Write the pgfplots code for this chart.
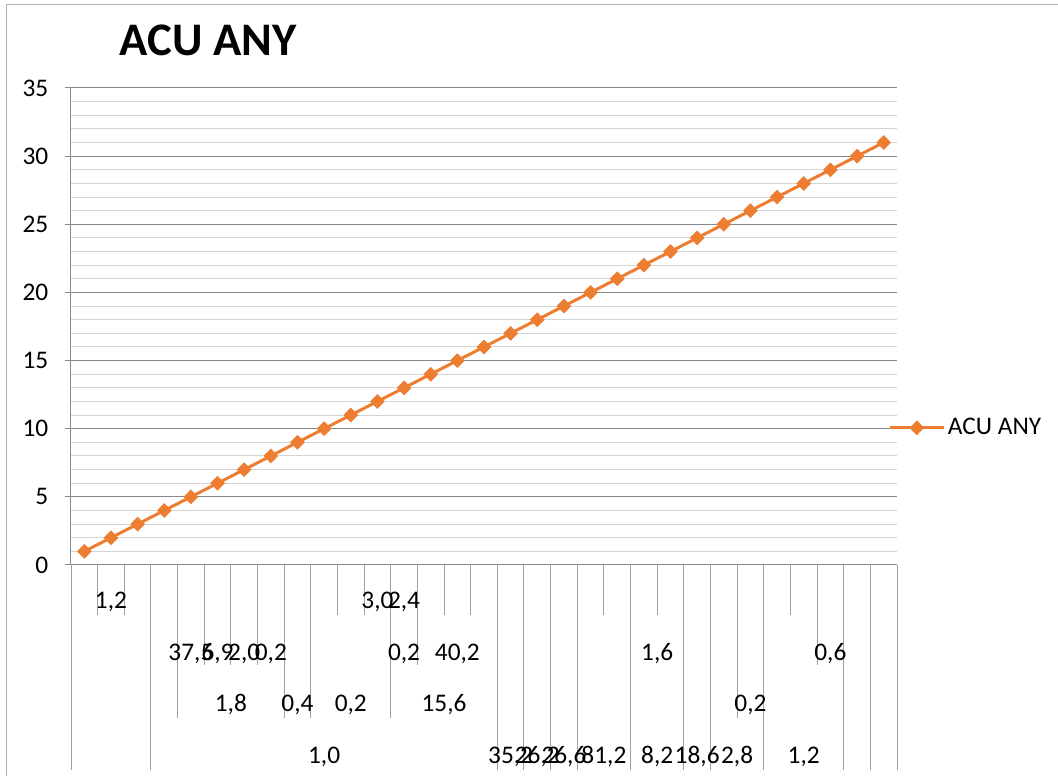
\documentclass[border=0pt]{standalone}
\usepackage{fontspec}
\setmainfont{Carlito}
\usepackage{pgfplots}
\pgfplotsset{compat=1.18}

\definecolor{acu}{HTML}{ED7D31}
\definecolor{axgray}{HTML}{898989}
\definecolor{mingray}{HTML}{D4D4D4}
\definecolor{tickgray}{HTML}{A0A0A0}
\definecolor{bordergray}{HTML}{B0B0B0}

% category label: position in category-boundary units, baseline in px
\newcommand{\cl}[3]{\node[anchor=base, inner sep=0pt] at ({71+26.645*(#1)},#2) {#3};}

\begin{document}
\fontsize{19}{23}\selectfont
\begin{tikzpicture}
\useasboundingbox (0,0) rectangle (793.5pt,582pt);

\begin{axis}[
    at={(53.25pt,158.25pt)}, anchor=south west,
    scale only axis, width=619.5pt, height=357.75pt,
    xmin=0.5, xmax=31.5, ymin=0, ymax=35,
    xtick=\empty,
    ytick={0,5,...,35},
    minor y tick num=4,
    ymajorgrids, yminorgrids,
    major grid style={axgray, line width=0.75pt},
    minor grid style={mingray, line width=0.75pt},
    axis x line*=bottom, axis y line*=left,
    axis line style={axgray, line width=0.75pt, -},
    tick align=outside, major tick length=4.5pt, minor tick length=0pt,
    tick style={axgray, line width=0.75pt},
    yticklabel style={font=\fontsize{19}{23}\selectfont, xshift=-6pt},
    /pgf/number format/assume math mode=true,
    clip=false,
    legend style={draw=none, fill=none, at={(axis description cs:1,0.2875)},
        anchor=west, xshift=-6.75pt, inner sep=0pt, font=\fontsize{19}{23}\selectfont},
    legend cell align=left,
    legend image code/.code={\draw[mark repeat=2, mark phase=2]
        plot coordinates {(0pt,0pt) (20.25pt,0pt) (40.5pt,0pt)};},
]
\addplot[acu, line width=2.25pt, mark=diamond*, mark size=5pt,
    mark options={xscale=1.33, line width=0.75pt}]
    coordinates {(1,1) (2,2) (3,3) (4,4) (5,5) (6,6) (7,7) (8,8) (9,9) (10,10)
    (11,11) (12,12) (13,13) (14,14) (15,15) (16,16) (17,17) (18,18) (19,19) (20,20)
    (21,21) (22,22) (23,23) (24,24) (25,25) (26,26) (27,27) (28,28) (29,29) (30,30) (31,31)};
\addlegendentry{ACU ANY}
\end{axis}

\begin{scope}[x=0.75pt, y=-0.75pt, yshift=582pt]
  \draw[bordergray, line width=0.75pt] (6,776) -- (6,5) -- (1058,5);
  \node[font=\fontsize{35}{40}\selectfont\bfseries] at (208,40) {ACU ANY};
  % multi-level category dividers
  \foreach \k/\e in {0/770,1/615,2/615,3/770,4/718,5/665,6/665,7/665,8/718,9/718,
      10/615,11/615,12/718,13/665,14/615,15/615,16/770,17/770,18/770,19/770,20/615,
      21/770,22/615,23/770,24/770,25/718,26/770,27/615,28/665,29/770,30/770,31/770}
    \draw[tickgray, line width=0.75pt] ({71+26.645*\k},565) -- ({71+26.645*\k},\e);
  \cl{1.5}{608}{1,2}
  \cl{11.5}{608}{3,0}
  \cl{12.5}{608}{2,4}
  \cl{4.5}{660}{37,5}
  \cl{5.5}{660}{6,9}
  \cl{6.5}{660}{2,0}
  \cl{7.5}{660}{0,2}
  \cl{12.5}{660}{0,2}
  \cl{14.5}{660}{40,2}
  \cl{22}{660}{1,6}
  \cl{28.5}{660}{0,6}
  \cl{6}{711}{1,8}
  \cl{8.5}{711}{0,4}
  \cl{10.5}{711}{0,2}
  \cl{14}{711}{15,6}
  \cl{25.5}{711}{0,2}
  \cl{9.5}{763}{1,0}
  \cl{16.5}{763}{35,2}
  \cl{17.5}{763}{26,2}
  \cl{18.5}{763}{26,6}
  \cl{20}{763}{81,2}
  \cl{22}{763}{8,2}
  \cl{23.5}{763}{18,6}
  \cl{25}{763}{2,8}
  \cl{27.5}{763}{1,2}
\end{scope}
\end{tikzpicture}
\end{document}
